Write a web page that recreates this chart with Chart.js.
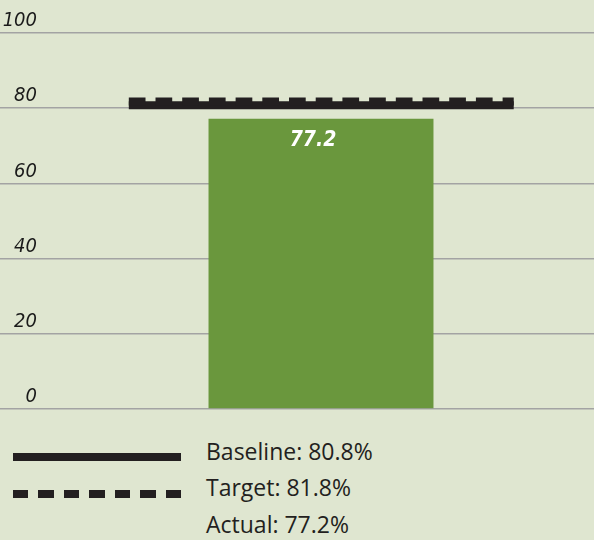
<!DOCTYPE html>
<html>
<head>
<meta charset="utf-8">
<script src="https://cdn.jsdelivr.net/npm/chart.js@4.4.1/dist/chart.umd.min.js"></script>
<style>
  body { margin: 0; width: 594px; height: 540px; overflow: hidden; position: relative; background: #dfe6d0; font-family: "Open Sans", Lato, sans-serif; }
  #chart { position: absolute; left: 0; top: 0; }
  .swatch { position: absolute; left: 13px; width: 168px; height: 8px; }
  .solid { background: #231f20; }
  .dashed { background: repeating-linear-gradient(to right, #231f20 0 15.5px, transparent 15.5px 25.5px); }
  .legend-text { position: absolute; left: 206px; font-size: 23px; line-height: 23px; color: #231f20; white-space: nowrap; }
</style>
</head>
<body>
<canvas id="chart" width="594" height="412"></canvas>
<div class="swatch solid" style="top:453px"></div>
<div class="swatch dashed" style="top:490px"></div>
<div class="legend-text" id="lgBaseline" style="top:440px"></div>
<div class="legend-text" id="lgTarget" style="top:476px"></div>
<div class="legend-text" id="lgActual" style="top:513px"></div>
<script>
// values
const categories = ['Actual'];
const actualValues = [77.2];
const baselineValue = 80.8;
const targetValue = 81.8;
const yTicks = [0, 20, 40, 60, 80, 100];

const INK = '#231f20';
const NARROW = '"Liberation Sans Narrow", "DejaVu Sans Condensed", sans-serif';

document.getElementById('lgBaseline').textContent = 'Baseline: ' + baselineValue.toFixed(1) + '%';
document.getElementById('lgTarget').textContent = 'Target: ' + targetValue.toFixed(1) + '%';
document.getElementById('lgActual').textContent = 'Actual: ' + actualValues[0].toFixed(1) + '%';

// white value written inside the top of the bar
const barLabel = {
  id: 'barLabel',
  afterDatasetsDraw(chart) {
    const meta = chart.getDatasetMeta(0);
    const ctx = chart.ctx;
    meta.data.forEach((bar, i) => {
      ctx.save();
      ctx.font = 'italic bold 21px ' + NARROW;
      ctx.fillStyle = '#ffffff';
      ctx.textAlign = 'center';
      ctx.textBaseline = 'middle';
      ctx.fillText(actualValues[i].toFixed(1), bar.x - 8, bar.y + 22);
      ctx.restore();
    });
  }
};

// horizontal extent of the reference lines, as a share of the plot width
const lineFrom = 0.148, lineTo = 0.853;

new Chart(document.getElementById('chart').getContext('2d'), {
  data: {
    labels: categories,
    datasets: [
      {
        type: 'bar',
        label: 'Actual',
        xAxisID: 'x',
        data: actualValues,
        backgroundColor: '#6a973d',
        barPercentage: 0.412,
        categoryPercentage: 1,
        grouped: false,
        order: 3
      },
      {
        type: 'line',
        label: 'Baseline',
        xAxisID: 'x2',
        data: [{ x: lineFrom, y: baselineValue }, { x: lineTo, y: baselineValue }],
        borderColor: INK,
        borderWidth: 8,
        pointRadius: 0,
        borderCapStyle: 'butt',
        order: 2
      },
      {
        type: 'line',
        label: 'Target',
        xAxisID: 'x2',
        data: [{ x: lineFrom, y: targetValue }, { x: lineTo, y: targetValue }],
        borderColor: INK,
        borderWidth: 8,
        borderDash: [16.7, 10],
        pointRadius: 0,
        borderCapStyle: 'butt',
        order: 1
      }
    ]
  },
  options: {
    responsive: false,
    animation: false,
    layout: { padding: { top: 33, bottom: 3, left: 0, right: 0 } },
    plugins: { legend: { display: false }, tooltip: { enabled: false } },
    scales: {
      x: { type: 'category', display: false, offset: true },
      x2: { type: 'linear', display: false, offset: false, min: 0, max: 1 },
      y: {
        min: 0,
        max: 100,
        afterBuildTicks: axis => { axis.ticks = yTicks.map(v => ({ value: v })); },
        afterFit: axis => { axis.width = 48; },
        border: { display: false },
        grid: { color: '#a3a3a3', lineWidth: 1.5, tickLength: 48 },
        ticks: {
          padding: -37,
          labelOffset: -12,
          color: '#1a1a1a',
          font: { family: NARROW, style: 'italic', size: 20 }
        }
      }
    }
  },
  plugins: [barLabel]
});
</script>
</body>
</html>
